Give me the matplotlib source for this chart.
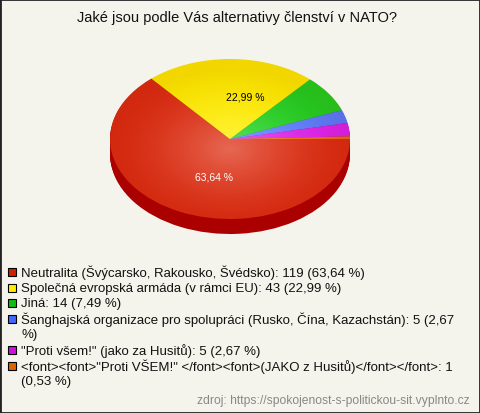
import textwrap

import matplotlib
matplotlib.use('Agg')
import matplotlib.pyplot as plt
import matplotlib.patches as mpatches
import numpy as np

plt.rcParams['font.family'] = ['Liberation Sans', 'DejaVu Sans']

# data
title = "Jaké jsou podle Vás alternativy členství v NATO?"
labels = [
    "Neutralita (Švýcarsko, Rakousko, Švédsko)",
    "Společná evropská armáda (v rámci EU)",
    "Jiná",
    "Šanghajská organizace pro spolupráci (Rusko, Čína, Kazachstán)",
    "\"Proti všem!\" (jako za Husitů)",
    "<font><font>\"Proti VŠEM!\" </font><font>(JAKO z Husitů)</font></font>",
]
counts = [119, 43, 14, 5, 5, 1]
percents = ["63,64", "22,99", "7,49", "2,67", "2,67", "0,53"]
colors = ['#dc2e12', '#ffee00', '#1fd21f', '#5a7dff', '#de22ee', '#ef6a10']
side_colors = ['#aa0000', '#c8b000', '#0f8f0f', '#2a40b0', '#8a0a9a', '#a84000']
marker_colors = ['#cc2200', '#ffee00', '#11bb11', '#4466ff', '#cc11dd', '#dd6600']
source = "zdroj: https://spokojenost-s-politickou-sit.vyplnto.cz"

W, H = 480, 414
BG = '#f5f4ec'
cx, cy, rx, ry, depth = 230, 140, 120, 80, 15
k = rx / ry  # y stretch so that a circle becomes the ellipse


def py(y):
    # pixel row -> pie axes data y
    return (H - y) * k


fig = plt.figure(figsize=(W / 100, H / 100), dpi=100)
fig.patch.set_facecolor(BG)

ax = fig.add_axes([0, 0, 1, 1])
ax.set_facecolor('none')

# side of the 3D pie, stacked layers
for d in range(depth, 0, -1):
    ax.pie(counts, colors=side_colors, center=(cx, py(cy + d)), radius=rx,
           startangle=0, counterclock=False, wedgeprops=dict(linewidth=0))

# top face
wedges, _, autotexts = ax.pie(
    counts, colors=colors, center=(cx, py(cy)), radius=rx,
    startangle=0, counterclock=False,
    autopct=lambda p: (f"{p:.2f} %".replace('.', ',') if p > 10 else ''),
    pctdistance=0.5, wedgeprops=dict(linewidth=0),
    textprops=dict(fontsize=7.5))

# radial shading on top face
n = 300
gx, gy = np.meshgrid(np.linspace(-1, 1, n), np.linspace(-1, 1, n))
r = np.clip(np.hypot(gx, gy + 0.12), 0, 1)
light = np.zeros((n, n, 4))
light[..., :3] = 1
light[..., 3] = 0.28 * (1 - r) ** 1.6
dark = np.zeros((n, n, 4))
dark[..., 0] = 0.45
dark[..., 3] = 0.10 * r ** 2
ext = (cx - rx, cx + rx, py(cy) - rx, py(cy) + rx)
for img in (light, dark):
    im = ax.imshow(img, extent=ext, origin='lower', aspect='auto', zorder=3)
    im.set_clip_path(mpatches.Circle((cx, py(cy)), rx, transform=ax.transData))

autotexts[0].set_color('white')
autotexts[0].set_position((214, py(177)))
autotexts[1].set_color('black')
autotexts[1].set_position((245, py(97)))
for t in autotexts:
    t.set_zorder(5)

ax.set_aspect('auto')
ax.set_xlim(0, W)
ax.set_ylim(0, H * k)
ax.axis('off')

# text layer in pixel coordinates
tx = fig.add_axes([0, 0, 1, 1])
tx.set_facecolor('none')
tx.set_xlim(0, W)
tx.set_ylim(H, 0)
tx.axis('off')

tx.text(237, 18, title, ha='center', va='center', fontsize=10.5, color='#111111')

y = 273
step = 15.6
for lab, c, p, mc in zip(labels, counts, percents, marker_colors):
    lines = textwrap.wrap(f"{lab}: {c} ({p} %)", width=72)
    tx.add_patch(mpatches.Rectangle((8, y - 4), 8, 8, facecolor=mc,
                                    edgecolor='black', linewidth=0.8))
    for line in lines:
        tx.text(21, y, line, ha='left', va='center', fontsize=9.55, color='#111111')
        y += step

tx.text(470, 401, source, ha='right', va='center', fontsize=8.7, color='#888888')

fig.add_artist(mpatches.Rectangle((0, 0), 1, 1, transform=fig.transFigure,
                                  fill=False, edgecolor='#222222', linewidth=2))

fig.savefig('out.png', dpi=100, facecolor=fig.get_facecolor())
